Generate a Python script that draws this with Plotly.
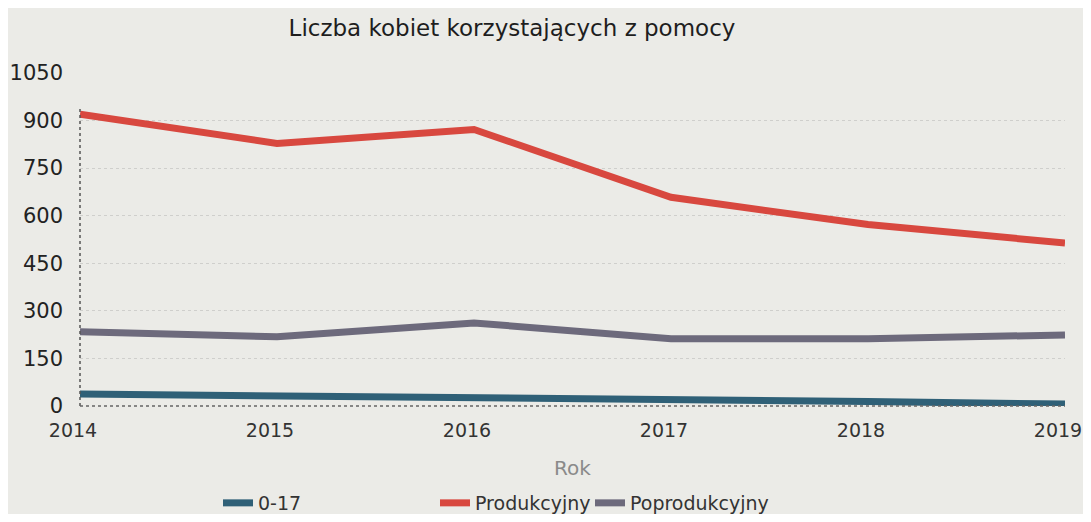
import plotly.graph_objects as go

years = [2014, 2015, 2016, 2017, 2018, 2019]
year_labels = ["2014", "2015", "2016", "2017", "2018", "2019"]
kids_0_17 = [38, 33, 27, 18, 14, 6]
produkcyjny = [920, 828, 872, 658, 572, 514]
poprodukcyjny = [234, 218, 262, 212, 212, 224]
y_ticks = [0, 150, 300, 450, 600, 750, 900, 1050]

font = "DejaVu Sans"
OFF = 8  # page body margin offset
W, H = 1091 - OFF, 522 - 2 * OFF
L, T = 80 - OFF, 73 - OFF
R = W - (1065 - OFF)
B = H - (406 - OFF)
PW, PH = W - L - R, H - T - B

def px_x(x):  # screen px -> paper
    return (x - OFF - L) / PW

def px_y(y):
    return (H - B - (y - OFF)) / PH

fig = go.Figure()
series = [
    ("0-17", kids_0_17, "#2f6077", "legend", 218),
    ("Produkcyjny", produkcyjny, "#d8483f", "legend2", 435),
    ("Poprodukcyjny", poprodukcyjny, "#6d6a7c", "legend3", 590),
]
legends = {}
for name, vals, col, leg, lx in series:
    fig.add_trace(go.Scatter(x=years, y=vals, name=name, mode="lines",
                             line=dict(color=col, width=7), legend=leg))
    legends[leg] = dict(orientation="h", x=px_x(lx), xanchor="left", y=px_y(503),
                        yanchor="middle", font=dict(family=font, size=19, color="#333"),
                        itemwidth=30, bgcolor="rgba(0,0,0,0)")

fig.update_layout(
    width=W, height=H,
    paper_bgcolor="#ebebe7", plot_bgcolor="#ebebe7",
    margin=dict(l=L, r=R, t=T, b=B, autoexpand=False),
    title=dict(text="Liczba kobiet korzystających z pomocy", x=(512 - OFF) / W,
               xanchor="center", xref="container",
               y=1 - (28 - OFF) / H, yanchor="middle",
               font=dict(family=font, size=23, color="#1e1e1e")),
    font=dict(family=font, color="#2a2a2a"),
    showlegend=True,
    xaxis=dict(range=[2014, 2019], tickvals=years, ticktext=year_labels,
               showgrid=False, zeroline=False, showline=False, ticks="",
               ticklabeloverflow="allow", ticklabelshift=-7,
               tickfont=dict(family=font, size=19, color="#333"), ticklabelstandoff=11),
    yaxis=dict(range=[0, 1050], tickvals=y_ticks, showgrid=True, gridcolor="#cfcfcc",
               griddash="dot", gridwidth=1, zeroline=False, showline=False, ticks="",
               tickfont=dict(family=font, size=21, color="#222"), ticklabelstandoff=16),
    **legends,
)
fig.add_annotation(text="Rok", xref="paper", yref="paper", x=px_x(572), y=px_y(468),
                   xanchor="center", yanchor="middle", showarrow=False,
                   font=dict(family=font, size=20, color="#8a8a8a"))
fig.add_shape(type="line", xref="paper", yref="paper", x0=0, x1=0, y0=0, y1=0.9,
              line=dict(color="#555", width=1.5, dash="dot"))
fig.add_shape(type="line", xref="paper", yref="paper", x0=0, x1=1, y0=0, y1=0,
              line=dict(color="#666", width=1.5, dash="dot"))
fig.write_html("out.html")
